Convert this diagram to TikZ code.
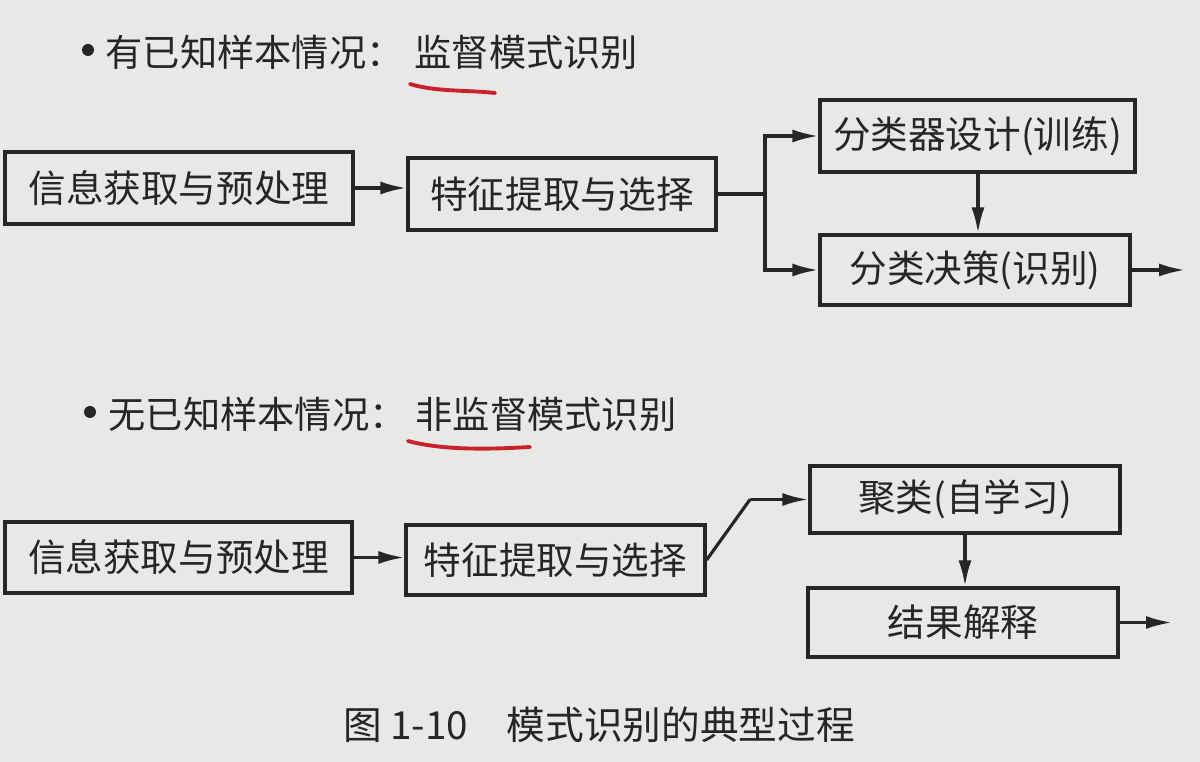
\documentclass[tikz,border=0pt]{standalone}
\usepackage{fontspec}
\setmainfont{Noto Sans CJK SC}
\usetikzlibrary{arrows.meta}
\definecolor{paper}{RGB}{232,232,230}
\definecolor{ink}{RGB}{38,38,38}
\definecolor{pen}{RGB}{200,35,45}

\begin{document}
\begin{tikzpicture}[
		box/.style={draw=ink, line width=0.9pt, text=ink, inner sep=0pt, font=\fontsize{10.7}{12}\selectfont},
		flow/.style={-{Latex[length=2.6mm, width=1.3mm]}, draw=ink, line width=0.9pt},
		head/.style={anchor=west, text=ink, inner sep=0pt, font=\fontsize{10.6}{12}\selectfont},
		bullet/.style={circle, fill=ink, inner sep=0pt, minimum size=0.12cm},
		pentrace/.style={draw=pen, line width=1.1pt, line cap=round}
	]
	\useasboundingbox[fill=paper] (0,0) rectangle (12,7.62);

	% supervised case
	\node[bullet] (dot1) at (0.88,7.12) {};
	\node[head] (case1) at (1.05,7.10) {有已知样本情况：};
	\node[head] (sup) at (4.14,7.10) {监督模式识别};
	\draw[pentrace] (4.10,6.78) .. controls (4.35,6.70) and (4.70,6.72) .. (4.95,6.69);

	\node[box, minimum width=3.48cm, minimum height=0.72cm] (info1) at (1.79,5.74) {信息获取与预处理};
	\node[box, minimum width=3.08cm, minimum height=0.72cm] (feat1) at (5.62,5.68) {特征提取与选择};
	\node[box, minimum width=3.15cm, minimum height=0.72cm] (train) at (9.775,6.26) {分类器设计(训练)};
	\node[box, minimum width=3.10cm, minimum height=0.70cm] (decide) at (9.75,4.92) {分类决策(识别)};
	\coordinate (split) at (7.65,5.68);
	\coordinate (outA) at (11.85,4.92);

	\draw[flow] (info1) -- (info1 -| feat1.west);
	\draw[ink, line width=0.9pt] (feat1.east) -- (split);
	\draw[flow] (split) |- (train.west);
	\draw[flow] (split) |- (decide.west);
	\draw[flow] (train.south -| 9.78,0) -- (decide.north -| 9.78,0);
	\draw[flow] (decide.east) -- (outA);

	% unsupervised case
	\node[bullet] (dot2) at (0.90,3.50) {};
	\node[head] (case2) at (1.08,3.48) {无已知样本情况：};
	\node[head] (unsup) at (4.15,3.48) {非监督模式识别};
	\draw[pentrace] (4.08,3.21) .. controls (4.45,3.11) and (4.95,3.13) .. (5.30,3.15);

	\node[box, minimum width=3.47cm, minimum height=0.71cm] (info2) at (1.785,2.045) {信息获取与预处理};
	\node[box, minimum width=2.99cm, minimum height=0.70cm] (feat2) at (5.555,2.02) {特征提取与选择};
	\node[box, minimum width=3.10cm, minimum height=0.67cm] (cluster) at (9.65,2.625) {聚类(自学习)};
	\node[box, minimum width=3.10cm, minimum height=0.69cm] (explain) at (9.63,1.395) {结果解释};
	\coordinate (bend) at (7.50,2.625);
	\coordinate (outB) at (11.72,1.395);

	\draw[flow] (info2) -- (info2 -| feat2.west);
	\draw[ink, line width=0.9pt] (feat2.east) -- (bend);
	\draw[flow] (bend) -- (cluster.west);
	\draw[flow] (cluster.south -| 9.65,0) -- (explain.north -| 9.65,0);
	\draw[flow] (explain.east) -- (outB);

	\node[text=ink, font=\fontsize{11}{13}\selectfont] (caption) at (5.99,0.37) {图 1-10\quad 模式识别的典型过程};
\end{tikzpicture}
\end{document}
